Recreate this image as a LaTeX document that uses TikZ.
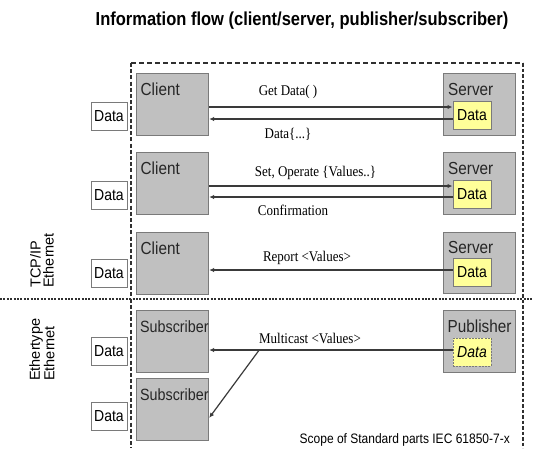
\documentclass[tikz,border=0pt]{standalone}
\usepackage{graphicx}
\usepackage{fontspec}
\setmainfont{Liberation Sans}
\newfontfamily\tnr{Liberation Serif}
\usetikzlibrary{arrows.meta,calc}
\definecolor{boxgray}{HTML}{C0C0C0}
\definecolor{edgegray}{HTML}{7A7A7A}
\definecolor{ylw}{HTML}{FFFF99}
\definecolor{linegray}{HTML}{3A3A3A}
\definecolor{framegray}{HTML}{303030}
\newcommand\vstr[1]{\scalebox{1}[1.14]{#1}}
\begin{document}
\begin{tikzpicture}[x=1pt,y=-1pt,
  gbox/.style={draw=edgegray, fill=boxgray, line width=1.2pt, minimum width=72pt, minimum height=61.5pt, inner sep=0pt, anchor=north west},
  glbl/.style={anchor=base west, inner sep=0pt, font=\fontsize{15.3}{17}\selectfont, text=black!85},
  ydata/.style={draw=edgegray, fill=ylw, line width=1pt, minimum width=38pt, minimum height=28pt, inner sep=0pt, font=\fontsize{14}{16}\selectfont},
  wdata/.style={draw=edgegray, fill=white, line width=1pt, minimum width=36pt, minimum height=28pt, inner sep=0pt, font=\fontsize{14}{16}\selectfont},
  clbl/.style={inner sep=0pt, font=\tnr\fontsize{13}{15}\selectfont},
  vlbl/.style={rotate=90, anchor=west, align=left, inner sep=0pt, font=\fontsize{14.5}{13}\selectfont},
  arr/.style={draw=linegray, line width=1.5pt, -{Latex[length=5pt,width=4.5pt]}},
  plain/.style={draw=linegray, line width=1.5pt}
]
\useasboundingbox (0,0) rectangle (533,448);
\fill[white] (0,0) rectangle (533,448);

% title
\node[inner sep=0pt, font=\bfseries\fontsize{16.5}{20}\selectfont] (title) at (302,21) {\vstr{Information flow (client/server, publisher/subscriber)}};

% scope frame
\coordinate (fbl) at (131,448);
\coordinate (ftl) at (131,63);
\coordinate (ftr) at (523,63);
\coordinate (fbr) at (523,448);
\draw[framegray, line width=1.1pt, dash pattern=on 5pt off 3pt] (ftl) -- (ftr);
\draw[framegray, line width=1.1pt, dash pattern=on 4pt off 2.2pt] (ftl) -- (fbl);
\draw[framegray, line width=1.1pt, dash pattern=on 3.5pt off 2pt] (ftr) -- (fbr);

% separator
\coordinate (sepl) at (0,299);
\coordinate (sepr) at (533,299);
\draw[framegray, line width=2pt, dash pattern=on 2pt off 1.4pt] (sepl) -- (sepr);

% left side boxes
\node[gbox] (c1) at (136,73) {};
\node[gbox] (c2) at (136,152) {};
\node[gbox] (c3) at (136,232) {};
\node[gbox] (s1) at (136,310) {};
\node[gbox] (s2) at (136,378) {};
\node[glbl] (c1t) at ($(c1.north west)+(4.5,22)$) {\vstr{Client}};
\node[glbl] (c2t) at ($(c2.north west)+(4.5,22)$) {\vstr{Client}};
\node[glbl] (c3t) at ($(c3.north west)+(4.5,22)$) {\vstr{Client}};
\node[glbl, font=\fontsize{14.3}{17}\selectfont] (s1t) at ($(s1.north west)+(4,22)$) {\vstr{Subscriber}};
\node[glbl, font=\fontsize{14.3}{17}\selectfont] (s2t) at ($(s2.north west)+(4,22)$) {\vstr{Subscriber}};

% right side boxes
\node[gbox] (v1) at (443,73) {};
\node[gbox] (v2) at (443,152) {};
\node[gbox] (v3) at (443,231.5) {};
\node[gbox] (p1) at (443,310) {};
\node[glbl] (v1t) at ($(v1.north west)+(5,22)$) {\vstr{Server}};
\node[glbl] (v2t) at ($(v2.north west)+(5,22)$) {\vstr{Server}};
\node[glbl] (v3t) at ($(v3.north west)+(5,22)$) {\vstr{Server}};
\node[glbl] (p1t) at ($(p1.north west)+(4.5,22)$) {\vstr{Publisher}};

\node[ydata] (sd1) at (472,115) {\vstr{Data}};
\node[ydata] (sd2) at (472,194.5) {\vstr{Data}};
\node[ydata] (sd3) at (472,272.5) {\vstr{Data}};
\node[ydata, dash pattern=on 2pt off 1.2pt] (sd4) at (472,352) {\vstr{\itshape Data}};

% left data boxes
\node[wdata] (d1) at (109,116.5) {\vstr{Data}};
\node[wdata] (d2) at (109,195) {\vstr{Data}};
\node[wdata] (d3) at (109,273) {\vstr{Data}};
\node[wdata] (d4) at (109,351) {\vstr{Data}};
\node[wdata] (d5) at (109,416.5) {\vstr{Data}};

% vertical labels
\node[vlbl] (tcp) at (42,288) {TCP/IP\\Ethernet};
\node[vlbl] (eth) at (42,381) {Ethertype\\Ethernet};

% connectors
\draw[arr] ($(c1.east|-sd1.west)+(0,-8)$) -- ($(sd1.west)+(0,-8)$);
\draw[arr] ($(sd1.west)+(0,4)$) -- ($(c1.east|-sd1.west)+(0,4)$);
\draw[arr] ($(c2.east|-sd2.west)+(0,-8.5)$) -- ($(sd2.west)+(0,-8.5)$);
\draw[arr] ($(sd2.west)+(0,2.5)$) -- ($(c2.east|-sd2.west)+(0,2.5)$);
\draw[arr] ($(sd3.west)+(0,-2.5)$) -- ($(c3.east|-sd3.west)+(0,-2.5)$);
\draw[arr] ($(sd4.west)+(0,-2)$) -- ($(s1.east|-sd4.west)+(0,-2)$);
\coordinate (mc) at ($(s1.east|-sd4.west)+(50,-2)$);
\draw[draw=linegray, line width=1.2pt, -{Latex[length=5pt,width=4.5pt]}] (mc) -- ($(s2.east)+(0,8.5)$);

% connector labels
\node[clbl] (l1) at (288,92) {\vstr{Get Data( )}};
\node[clbl] (l2) at (288,134) {\vstr{Data\{...\}}};
\node[clbl] (l3) at (315.5,172.5) {\vstr{Set, Operate \{Values..\}}};
\node[clbl] (l4) at (293,210.5) {\vstr{Confirmation}};
\node[clbl] (l5) at (307,258) {\vstr{Report <Values>}};
\node[clbl] (l6) at (310,338) {\vstr{Multicast <Values>}};

% scope text
\node[anchor=base east, inner sep=0pt, font=\fontsize{12}{14}\selectfont] (scope) at (510,443) {\vstr{Scope of Standard parts IEC 61850-7-x}};
\end{tikzpicture}
\end{document}
